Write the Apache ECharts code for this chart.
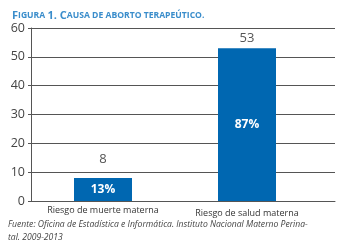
<!DOCTYPE html>
<html>
<head>
<meta charset="utf-8">
<script src="https://cdn.jsdelivr.net/npm/echarts@6/dist/echarts.min.js"></script>
<style>
  html, body { margin: 0; padding: 0; background: #fff; }
  #chart { width: 347px; height: 247px; }
</style>
</head>
<body>
<div id="chart"></div>
<script>
// datos
const categorias = ['Riesgo de muerte materna', 'Riesgo de salud materna']
const valores = [8, 53]
const porcentajes = ['13%', '87%']
const ticksY = [0, 10, 20, 30, 40, 50, 60]

const myChart = echarts.init(document.getElementById('chart'))
const fuente = 'Open Sans, DejaVu Sans, sans-serif'

const options = {
  backgroundColor: '#FFFFFF',
  animation: false,
  title: {
    left: 7,
    top: 5,
    text: '{a|F}{b|IGURA }{a|1. C}{b|AUSA DE ABORTO TERAPEÚTICO.}',
    textStyle: {
      rich: {
        a: { fontSize: 11, color: '#3a8dcb', fontFamily: fuente },
        b: { fontSize: 8.6, color: '#3a8dcb', fontFamily: fuente }
      }
    }
  },
  grid: [
    // rejilla con líneas (más ancha)
    { left: 31, right: 12, top: 28, bottom: 46 },
    // rejilla de barras
    { left: 31, right: 28, top: 28, bottom: 46 }
  ],
  xAxis: [{
    gridIndex: 0,
    type: 'category',
    data: categorias,
    axisLine: { lineStyle: { color: '#555', width: 1 } },
    axisTick: { show: false },
    axisLabel: { show: false }
  }, {
    gridIndex: 1,
    type: 'category',
    data: categorias,
    axisLine: { show: false },
    axisTick: { show: false },
    axisLabel: {
      interval: 0,
      margin: 5,
      formatter: function (v, i) { return i === 0 ? '{a|' + v + '}' : '{b|' + v + '}' },
      rich: {
        a: { fontSize: 9, color: '#333', fontFamily: fuente },
        b: { fontSize: 9, color: '#333', fontFamily: fuente, padding: [3, 0, 0, 0] }
      }
    }
  }],
  yAxis: [{
    gridIndex: 0,
    type: 'value',
    min: ticksY[0],
    max: ticksY[ticksY.length - 1],
    interval: 10,
    axisLine: { show: true, lineStyle: { color: '#555' } },
    axisTick: { show: true, length: 3, lineStyle: { color: '#555' } },
    axisLabel: { margin: 6, fontSize: 12.5, color: '#444', fontFamily: fuente },
    splitLine: { show: true, lineStyle: { color: '#555', width: 1 } }
  }, {
    gridIndex: 1,
    type: 'value',
    min: ticksY[0],
    max: ticksY[ticksY.length - 1],
    interval: 10,
    show: false
  }],
  series: [{
    type: 'bar',
    xAxisIndex: 1,
    yAxisIndex: 1,
    barWidth: 58,
    data: valores,
    itemStyle: { color: '#0067b1' },
    label: {
      show: true,
      position: 'inside',
      color: '#fff',
      fontSize: 12,
      fontWeight: 'bold',
      fontFamily: fuente,
      formatter: p => porcentajes[p.dataIndex]
    },
    z: 3
  }, {
    type: 'bar',
    xAxisIndex: 1,
    yAxisIndex: 1,
    barWidth: 58,
    barGap: '-100%',
    data: valores.map((v, i) => ({
      value: v,
      label: { distance: i === 0 ? 12 : 3 }
    })),
    itemStyle: { color: 'transparent' },
    label: {
      show: true,
      position: 'top',
      color: '#555',
      fontSize: 13,
      fontFamily: fuente
    },
    z: 4
  }],
  graphic: [{
    type: 'text',
    left: 8,
    top: 218,
    style: {
      text: 'Fuente: Oficina de Estadística e Informática. Instituto Nacional Materno Perina-\ntal. 2009-2013',
      fontSize: 8.6,
      fontStyle: 'italic',
      fontFamily: fuente,
      fill: '#444',
      lineHeight: 13
    }
  }]
}

myChart.setOption(options)
</script>
</body>
</html>
